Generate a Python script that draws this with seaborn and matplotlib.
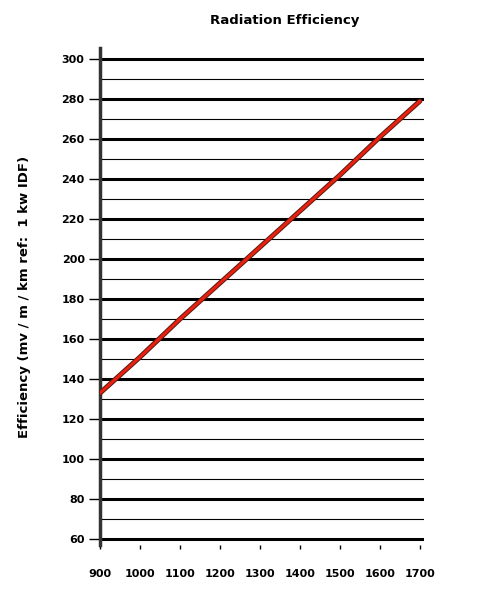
import matplotlib
matplotlib.use('Agg')
import matplotlib.pyplot as plt
import seaborn as sns
import pandas as pd

power = [900, 1000, 1100, 1200, 1300, 1400, 1500, 1600, 1700]
efficiency = [133, 151, 170, 188, 206, 224, 242, 261, 279]
major_ticks = list(range(60, 301, 20))
minor_ticks = list(range(70, 301, 20))
x_ticks = list(range(900, 1701, 100))

sns.set_style('white')
plt.rcParams['font.family'] = ['DejaVu Sans']
plt.rcParams['font.weight'] = 'bold'
plt.rcParams['text.color'] = 'black'
plt.rcParams['axes.labelcolor'] = 'black'
plt.rcParams['xtick.color'] = 'black'
plt.rcParams['ytick.color'] = 'black'

df = pd.DataFrame({'power': power, 'eff': efficiency})

fig = plt.figure(figsize=(4.9, 6.01), dpi=100)
ax = fig.add_axes([0.204, 0.093, 0.661, 0.827])

for v in major_ticks:
    ax.axhline(v, color='black', lw=2.2, zorder=1)
for v in minor_ticks:
    ax.axhline(v, color='black', lw=0.8, zorder=1)

sns.lineplot(data=df, x='power', y='eff', ax=ax, color='#5a1a10', lw=3.6, zorder=3)
sns.lineplot(data=df, x='power', y='eff', ax=ax, color='#e82010', lw=2.2, zorder=4)

ax.set_xlim(900, 1710)
ax.set_ylim(57, 305.5)
ax.set_yticks(major_ticks)
ax.set_xticks(x_ticks)
ax.tick_params(axis='y', length=8, width=1, labelsize=8, pad=3, left=True)
ax.tick_params(axis='x', length=3, width=1, labelsize=8, pad=14, bottom=True)
for lab in ax.get_xticklabels() + ax.get_yticklabels():
    lab.set_fontweight('bold')

for s in ['top', 'right', 'bottom']:
    ax.spines[s].set_visible(False)
ax.spines['left'].set_linewidth(2.5)
ax.spines['left'].set_color('#333333')

ax.set_xlabel('')
ax.set_ylabel('Efficiency (mv / m / km ref:  1 kw IDF)', fontsize=9.5, fontweight='bold', labelpad=22)
fig.text(0.582, 0.966, 'Radiation Efficiency', ha='center', va='center', fontsize=9.5, fontweight='bold')

fig.savefig('out.png', dpi=100)
